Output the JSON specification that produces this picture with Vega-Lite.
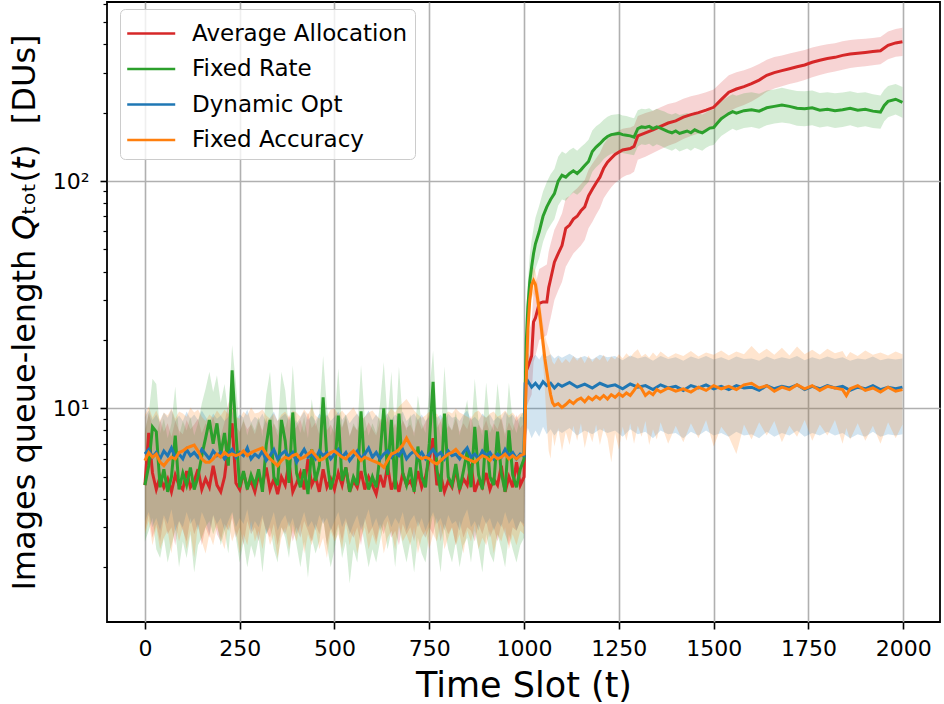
{
"$schema":"https://vega.github.io/schema/vega-lite/v6.json",
"width":833,"height":620,
"autosize":{"type":"none"},
"padding":{"left":107,"top":2,"right":4,"bottom":82},
"config":{
"font":"DejaVu Sans",
"view":{"stroke":"black","strokeWidth":1.8},
"axis":{"labelFont":"DejaVu Sans","titleFont":"DejaVu Sans","labelColor":"black","titleColor":"black","tickColor":"black","domain":false,"gridColor":"#b0b0b0","gridWidth":1.6,"titleFontWeight":"normal","labelFontSize":22,"titleFontSize":32,"tickWidth":1.6,"labelOverlap":false}
},
"datasets":{"d":[
{"s":"A","t":0,"m":4.6,"lo":2.9,"hi":7.8},{"s":"A","t":10,"m":7.8,"lo":3.4,"hi":9.5},{"s":"A","t":20,"m":5.2,"lo":2.7,"hi":8.4},{"s":"A","t":30,"m":4.4,"lo":3.1,"hi":7.6},{"s":"A","t":40,"m":5.0,"lo":2.6,"hi":8.9},{"s":"A","t":50,"m":4.5,"lo":3.3,"hi":7.9},{"s":"A","t":60,"m":4.9,"lo":2.8,"hi":8.6},{"s":"A","t":70,"m":4.3,"lo":3.0,"hi":7.5},{"s":"A","t":80,"m":5.1,"lo":2.5,"hi":8.8},{"s":"A","t":90,"m":4.6,"lo":3.2,"hi":8.0},
{"s":"A","t":100,"m":4.4,"lo":2.9,"hi":7.7},{"s":"A","t":110,"m":5.3,"lo":2.6,"hi":8.9},{"s":"A","t":120,"m":4.5,"lo":3.3,"hi":8.1},{"s":"A","t":130,"m":4.8,"lo":2.8,"hi":8.5},{"s":"A","t":140,"m":5.4,"lo":3.1,"hi":9.0},{"s":"A","t":150,"m":4.4,"lo":2.5,"hi":7.8},{"s":"A","t":160,"m":4.9,"lo":3.0,"hi":8.6},{"s":"A","t":170,"m":4.5,"lo":2.7,"hi":8.2},{"s":"A","t":180,"m":5.6,"lo":3.4,"hi":9.2},{"s":"A","t":190,"m":4.6,"lo":2.8,"hi":8.0},
{"s":"A","t":200,"m":4.3,"lo":2.6,"hi":7.6},{"s":"A","t":210,"m":5.0,"lo":3.1,"hi":8.7},{"s":"A","t":220,"m":6.8,"lo":2.9,"hi":10.5},{"s":"A","t":230,"m":8.6,"lo":3.3,"hi":11.5},{"s":"A","t":240,"m":4.7,"lo":2.7,"hi":8.4},{"s":"A","t":250,"m":4.4,"lo":3.0,"hi":7.9},{"s":"A","t":260,"m":5.2,"lo":2.5,"hi":8.8},{"s":"A","t":270,"m":4.5,"lo":3.2,"hi":8.1},{"s":"A","t":280,"m":4.8,"lo":2.8,"hi":8.5},{"s":"A","t":290,"m":4.3,"lo":3.0,"hi":7.7},
{"s":"A","t":300,"m":5.1,"lo":2.6,"hi":8.8},{"s":"A","t":310,"m":4.6,"lo":3.3,"hi":8.0},{"s":"A","t":320,"m":5.5,"lo":2.9,"hi":9.1},{"s":"A","t":330,"m":4.4,"lo":2.7,"hi":7.8},{"s":"A","t":340,"m":4.9,"lo":3.1,"hi":8.6},{"s":"A","t":350,"m":4.2,"lo":2.5,"hi":7.6},{"s":"A","t":360,"m":5.0,"lo":3.0,"hi":8.9},{"s":"A","t":370,"m":4.6,"lo":2.8,"hi":8.2},{"s":"A","t":380,"m":5.8,"lo":3.2,"hi":9.4},{"s":"A","t":390,"m":4.3,"lo":2.6,"hi":7.9},
{"s":"A","t":400,"m":4.7,"lo":3.0,"hi":8.3},{"s":"A","t":410,"m":5.2,"lo":2.7,"hi":8.9},{"s":"A","t":420,"m":4.4,"lo":3.2,"hi":7.8},{"s":"A","t":430,"m":6.0,"lo":2.9,"hi":9.6},{"s":"A","t":440,"m":4.6,"lo":2.6,"hi":8.2},{"s":"A","t":450,"m":5.0,"lo":3.1,"hi":8.7},{"s":"A","t":460,"m":4.3,"lo":2.8,"hi":7.7},{"s":"A","t":470,"m":5.4,"lo":3.3,"hi":9.0},{"s":"A","t":480,"m":4.5,"lo":2.5,"hi":8.0},{"s":"A","t":490,"m":4.9,"lo":3.0,"hi":8.5},
{"s":"A","t":500,"m":4.4,"lo":2.7,"hi":7.8},{"s":"A","t":510,"m":5.2,"lo":3.1,"hi":8.9},{"s":"A","t":520,"m":4.6,"lo":2.6,"hi":8.2},{"s":"A","t":530,"m":5.5,"lo":3.2,"hi":9.1},{"s":"A","t":540,"m":4.3,"lo":2.9,"hi":7.6},{"s":"A","t":550,"m":4.8,"lo":2.7,"hi":8.4},{"s":"A","t":560,"m":4.5,"lo":3.0,"hi":8.0},{"s":"A","t":570,"m":5.3,"lo":2.5,"hi":8.9},{"s":"A","t":580,"m":4.4,"lo":3.3,"hi":7.9},{"s":"A","t":590,"m":5.0,"lo":2.8,"hi":8.7},
{"s":"A","t":600,"m":4.6,"lo":3.0,"hi":8.1},{"s":"A","t":610,"m":4.2,"lo":2.6,"hi":7.6},{"s":"A","t":620,"m":5.1,"lo":3.1,"hi":8.8},{"s":"A","t":630,"m":4.5,"lo":2.8,"hi":8.0},{"s":"A","t":640,"m":5.6,"lo":3.2,"hi":9.2},{"s":"A","t":650,"m":4.4,"lo":2.7,"hi":7.8},{"s":"A","t":660,"m":4.9,"lo":2.9,"hi":8.6},{"s":"A","t":670,"m":4.3,"lo":2.5,"hi":7.7},{"s":"A","t":680,"m":5.2,"lo":3.1,"hi":8.9},{"s":"A","t":690,"m":4.6,"lo":2.8,"hi":8.2},
{"s":"A","t":700,"m":4.8,"lo":3.0,"hi":8.5},{"s":"A","t":710,"m":4.4,"lo":2.6,"hi":7.8},{"s":"A","t":720,"m":5.3,"lo":3.2,"hi":9.0},{"s":"A","t":730,"m":4.5,"lo":2.9,"hi":8.1},{"s":"A","t":740,"m":5.0,"lo":2.7,"hi":8.7},{"s":"A","t":750,"m":6.0,"lo":3.0,"hi":9.5},{"s":"A","t":760,"m":7.4,"lo":2.8,"hi":10.5},{"s":"A","t":770,"m":4.6,"lo":3.3,"hi":8.2},{"s":"A","t":780,"m":5.1,"lo":2.6,"hi":8.8},{"s":"A","t":790,"m":4.3,"lo":3.1,"hi":7.7},
{"s":"A","t":800,"m":4.8,"lo":2.8,"hi":8.4},{"s":"A","t":810,"m":4.5,"lo":3.0,"hi":8.0},{"s":"A","t":820,"m":5.4,"lo":2.5,"hi":9.0},{"s":"A","t":830,"m":4.4,"lo":3.2,"hi":7.9},{"s":"A","t":840,"m":4.9,"lo":2.7,"hi":8.6},{"s":"A","t":850,"m":4.6,"lo":3.0,"hi":8.1},{"s":"A","t":860,"m":5.7,"lo":2.9,"hi":9.3},{"s":"A","t":870,"m":4.3,"lo":2.6,"hi":7.7},{"s":"A","t":880,"m":4.8,"lo":3.1,"hi":8.5},{"s":"A","t":890,"m":4.5,"lo":2.8,"hi":8.0},
{"s":"A","t":900,"m":5.2,"lo":3.2,"hi":8.9},{"s":"A","t":910,"m":4.4,"lo":2.7,"hi":7.8},{"s":"A","t":920,"m":4.9,"lo":3.0,"hi":8.6},{"s":"A","t":930,"m":4.6,"lo":2.6,"hi":8.1},{"s":"A","t":940,"m":5.6,"lo":3.1,"hi":9.2},{"s":"A","t":950,"m":4.3,"lo":2.8,"hi":7.7},{"s":"A","t":960,"m":5.0,"lo":2.5,"hi":8.7},{"s":"A","t":970,"m":4.5,"lo":3.0,"hi":8.0},{"s":"A","t":980,"m":5.8,"lo":2.9,"hi":9.4},{"s":"A","t":990,"m":4.6,"lo":3.2,"hi":8.2},
{"s":"A","t":1000,"m":5.0,"lo":3.0,"hi":8.6},
{"s":"A","t":1005,"m":14.5,"lo":10,"hi":20},{"s":"A","t":1010,"m":15.2,"lo":10.5,"hi":21},{"s":"A","t":1020,"m":17,"lo":11.5,"hi":24},{"s":"A","t":1025,"m":24,"lo":16,"hi":33},{"s":"A","t":1030,"m":25,"lo":17,"hi":35},{"s":"A","t":1040,"m":29,"lo":20,"hi":41},{"s":"A","t":1050,"m":29.4,"lo":20.5,"hi":42},{"s":"A","t":1060,"m":29.4,"lo":21,"hi":43},{"s":"A","t":1065,"m":34,"lo":23,"hi":49},{"s":"A","t":1070,"m":37,"lo":25,"hi":53},{"s":"A","t":1080,"m":44,"lo":30,"hi":61},{"s":"A","t":1090,"m":48,"lo":33,"hi":66},{"s":"A","t":1100,"m":52,"lo":36,"hi":72},{"s":"A","t":1110,"m":62,"lo":42,"hi":84},{"s":"A","t":1120,"m":64,"lo":45,"hi":86},{"s":"A","t":1130,"m":68,"lo":48,"hi":90},{"s":"A","t":1140,"m":70,"lo":50,"hi":93},{"s":"A","t":1150,"m":74,"lo":52,"hi":97},{"s":"A","t":1160,"m":77,"lo":55,"hi":101},{"s":"A","t":1170,"m":86,"lo":62,"hi":112},{"s":"A","t":1180,"m":92,"lo":66,"hi":119},{"s":"A","t":1190,"m":98,"lo":71,"hi":126},{"s":"A","t":1200,"m":104,"lo":76,"hi":133},{"s":"A","t":1210,"m":114,"lo":84,"hi":145},{"s":"A","t":1220,"m":121,"lo":89,"hi":153},{"s":"A","t":1230,"m":126,"lo":94,"hi":158},{"s":"A","t":1240,"m":131,"lo":98,"hi":164},{"s":"A","t":1250,"m":134,"lo":101,"hi":167},{"s":"A","t":1260,"m":137,"lo":104,"hi":170},{"s":"A","t":1270,"m":138,"lo":106,"hi":171},{"s":"A","t":1280,"m":139,"lo":107,"hi":172},{"s":"A","t":1290,"m":142,"lo":110,"hi":175},{"s":"A","t":1300,"m":158,"lo":124,"hi":193},{"s":"A","t":1320,"m":163,"lo":128,"hi":199},{"s":"A","t":1340,"m":168,"lo":133,"hi":204},{"s":"A","t":1360,"m":174,"lo":138,"hi":211},{"s":"A","t":1380,"m":180,"lo":143,"hi":218},{"s":"A","t":1400,"m":184,"lo":147,"hi":222},{"s":"A","t":1420,"m":191,"lo":153,"hi":230},{"s":"A","t":1440,"m":196,"lo":158,"hi":236},{"s":"A","t":1460,"m":200,"lo":162,"hi":240},{"s":"A","t":1480,"m":205,"lo":167,"hi":246},{"s":"A","t":1500,"m":211,"lo":172,"hi":253},{"s":"A","t":1520,"m":228,"lo":186,"hi":272},{"s":"A","t":1540,"m":246,"lo":202,"hi":292},{"s":"A","t":1560,"m":254,"lo":210,"hi":301},{"s":"A","t":1580,"m":260,"lo":216,"hi":307},{"s":"A","t":1600,"m":268,"lo":224,"hi":316},{"s":"A","t":1620,"m":278,"lo":234,"hi":327},{"s":"A","t":1640,"m":292,"lo":247,"hi":342},{"s":"A","t":1660,"m":300,"lo":255,"hi":351},{"s":"A","t":1680,"m":306,"lo":261,"hi":357},{"s":"A","t":1700,"m":312,"lo":267,"hi":364},{"s":"A","t":1720,"m":318,"lo":272,"hi":370},{"s":"A","t":1740,"m":324,"lo":278,"hi":377},{"s":"A","t":1760,"m":333,"lo":286,"hi":387},{"s":"A","t":1780,"m":340,"lo":293,"hi":394},{"s":"A","t":1800,"m":346,"lo":299,"hi":400},{"s":"A","t":1820,"m":350,"lo":303,"hi":404},{"s":"A","t":1840,"m":357,"lo":309,"hi":412},{"s":"A","t":1860,"m":362,"lo":314,"hi":417},{"s":"A","t":1880,"m":365,"lo":317,"hi":420},{"s":"A","t":1900,"m":368,"lo":320,"hi":423},{"s":"A","t":1920,"m":371,"lo":323,"hi":426},{"s":"A","t":1940,"m":374,"lo":326,"hi":430},{"s":"A","t":1960,"m":395,"lo":343,"hi":455},{"s":"A","t":1980,"m":405,"lo":352,"hi":466},{"s":"A","t":1998,"m":410,"lo":355,"hi":472},
{"s":"F","t":0,"m":4.6,"lo":2.6,"hi":8.0},{"s":"F","t":10,"m":5.6,"lo":2.9,"hi":9.5},{"s":"F","t":20,"m":8.3,"lo":3.3,"hi":13.5},{"s":"F","t":30,"m":7.9,"lo":2.4,"hi":12.8},{"s":"F","t":40,"m":4.5,"lo":2.2,"hi":7.8},{"s":"F","t":50,"m":5.4,"lo":2.7,"hi":9.0},{"s":"F","t":60,"m":4.3,"lo":2.1,"hi":7.4},{"s":"F","t":70,"m":5.0,"lo":2.5,"hi":8.6},{"s":"F","t":80,"m":7.6,"lo":2.9,"hi":12.5},{"s":"F","t":90,"m":4.4,"lo":2.0,"hi":7.6},
{"s":"F","t":100,"m":5.2,"lo":2.6,"hi":8.8},{"s":"F","t":110,"m":4.6,"lo":2.2,"hi":8.0},{"s":"F","t":120,"m":5.5,"lo":2.8,"hi":9.2},{"s":"F","t":130,"m":4.4,"lo":1.9,"hi":7.6},{"s":"F","t":140,"m":5.0,"lo":2.5,"hi":8.6},{"s":"F","t":150,"m":6.2,"lo":2.7,"hi":10.5},{"s":"F","t":160,"m":7.4,"lo":3.0,"hi":12.2},{"s":"F","t":170,"m":8.9,"lo":3.2,"hi":14.5},{"s":"F","t":180,"m":7.0,"lo":2.8,"hi":11.8},{"s":"F","t":190,"m":8.6,"lo":3.1,"hi":14.0},
{"s":"F","t":200,"m":6.3,"lo":2.5,"hi":10.6},{"s":"F","t":210,"m":7.8,"lo":2.9,"hi":12.8},{"s":"F","t":220,"m":5.6,"lo":2.3,"hi":9.5},{"s":"F","t":230,"m":14.7,"lo":3.5,"hi":19.0},{"s":"F","t":240,"m":7.9,"lo":2.7,"hi":12.9},{"s":"F","t":250,"m":4.5,"lo":2.1,"hi":7.8},{"s":"F","t":260,"m":5.3,"lo":2.6,"hi":9.0},{"s":"F","t":270,"m":4.4,"lo":2.0,"hi":7.6},{"s":"F","t":280,"m":5.1,"lo":2.5,"hi":8.7},{"s":"F","t":290,"m":4.6,"lo":2.2,"hi":8.0},
{"s":"F","t":300,"m":5.4,"lo":2.7,"hi":9.2},{"s":"F","t":310,"m":4.3,"lo":1.9,"hi":7.5},{"s":"F","t":320,"m":6.9,"lo":2.8,"hi":11.5},{"s":"F","t":330,"m":8.9,"lo":3.0,"hi":14.5},{"s":"F","t":340,"m":5.0,"lo":2.4,"hi":8.6},{"s":"F","t":350,"m":4.6,"lo":2.1,"hi":8.0},{"s":"F","t":360,"m":8.9,"lo":3.0,"hi":14.5},{"s":"F","t":370,"m":7.2,"lo":2.7,"hi":12.0},{"s":"F","t":380,"m":4.7,"lo":2.2,"hi":8.1},{"s":"F","t":390,"m":9.6,"lo":3.1,"hi":15.5},
{"s":"F","t":400,"m":5.2,"lo":2.5,"hi":8.9},{"s":"F","t":410,"m":4.5,"lo":2.0,"hi":7.8},{"s":"F","t":420,"m":5.4,"lo":2.6,"hi":9.2},{"s":"F","t":430,"m":4.2,"lo":1.8,"hi":7.4},{"s":"F","t":440,"m":6.6,"lo":2.7,"hi":11.0},{"s":"F","t":450,"m":4.8,"lo":2.3,"hi":8.3},{"s":"F","t":460,"m":5.6,"lo":2.6,"hi":9.5},{"s":"F","t":470,"m":11.2,"lo":3.3,"hi":17.0},{"s":"F","t":480,"m":6.0,"lo":2.5,"hi":10.2},{"s":"F","t":490,"m":4.4,"lo":2.0,"hi":7.6},
{"s":"F","t":500,"m":5.1,"lo":2.4,"hi":8.8},{"s":"F","t":510,"m":9.3,"lo":3.0,"hi":15.0},{"s":"F","t":520,"m":4.8,"lo":2.2,"hi":8.3},{"s":"F","t":530,"m":5.5,"lo":2.6,"hi":9.4},{"s":"F","t":540,"m":4.3,"lo":1.7,"hi":7.5},{"s":"F","t":550,"m":5.0,"lo":2.4,"hi":8.6},{"s":"F","t":560,"m":4.6,"lo":2.1,"hi":8.0},{"s":"F","t":570,"m":9.7,"lo":3.1,"hi":15.5},{"s":"F","t":580,"m":5.3,"lo":2.5,"hi":9.0},{"s":"F","t":590,"m":4.4,"lo":2.0,"hi":7.6},
{"s":"F","t":600,"m":5.0,"lo":2.4,"hi":8.6},{"s":"F","t":610,"m":4.5,"lo":2.1,"hi":7.8},{"s":"F","t":620,"m":6.2,"lo":2.6,"hi":10.4},{"s":"F","t":630,"m":10.0,"lo":3.1,"hi":16.0},{"s":"F","t":640,"m":5.1,"lo":2.4,"hi":8.8},{"s":"F","t":650,"m":8.9,"lo":2.9,"hi":14.5},{"s":"F","t":660,"m":4.4,"lo":2.0,"hi":7.6},{"s":"F","t":670,"m":9.5,"lo":3.0,"hi":15.3},{"s":"F","t":680,"m":5.2,"lo":2.5,"hi":8.9},{"s":"F","t":690,"m":4.6,"lo":2.1,"hi":8.0},
{"s":"F","t":700,"m":5.5,"lo":2.6,"hi":9.4},{"s":"F","t":710,"m":4.3,"lo":1.9,"hi":7.5},{"s":"F","t":720,"m":6.8,"lo":2.7,"hi":11.4},{"s":"F","t":730,"m":5.0,"lo":2.3,"hi":8.6},{"s":"F","t":740,"m":4.5,"lo":2.1,"hi":7.8},{"s":"F","t":750,"m":7.0,"lo":2.8,"hi":11.8},{"s":"F","t":760,"m":13.1,"lo":3.4,"hi":18.0},{"s":"F","t":770,"m":5.4,"lo":2.5,"hi":9.2},{"s":"F","t":780,"m":4.3,"lo":1.9,"hi":7.5},{"s":"F","t":790,"m":9.5,"lo":3.0,"hi":15.3},
{"s":"F","t":800,"m":5.0,"lo":2.4,"hi":8.6},{"s":"F","t":810,"m":4.6,"lo":2.1,"hi":8.0},{"s":"F","t":820,"m":5.7,"lo":2.6,"hi":9.7},{"s":"F","t":830,"m":4.4,"lo":2.0,"hi":7.6},{"s":"F","t":840,"m":5.3,"lo":2.5,"hi":9.1},{"s":"F","t":850,"m":6.5,"lo":2.7,"hi":10.9},{"s":"F","t":860,"m":4.5,"lo":2.1,"hi":7.8},{"s":"F","t":870,"m":8.3,"lo":2.9,"hi":13.5},{"s":"F","t":880,"m":5.1,"lo":2.4,"hi":8.7},{"s":"F","t":890,"m":4.4,"lo":1.9,"hi":7.6},
{"s":"F","t":900,"m":8.0,"lo":2.8,"hi":13.0},{"s":"F","t":910,"m":5.0,"lo":2.3,"hi":8.6},{"s":"F","t":920,"m":4.6,"lo":2.1,"hi":8.0},{"s":"F","t":930,"m":7.9,"lo":2.8,"hi":12.9},{"s":"F","t":940,"m":5.2,"lo":2.4,"hi":8.9},{"s":"F","t":950,"m":4.3,"lo":2.0,"hi":7.5},{"s":"F","t":960,"m":8.0,"lo":2.8,"hi":13.0},{"s":"F","t":970,"m":5.1,"lo":2.4,"hi":8.7},{"s":"F","t":980,"m":4.5,"lo":2.1,"hi":7.8},{"s":"F","t":990,"m":5.4,"lo":2.5,"hi":9.2},
{"s":"F","t":1000,"m":6.0,"lo":2.7,"hi":9.8},
{"s":"F","t":1003,"m":12,"lo":9,"hi":16},{"s":"F","t":1006,"m":20,"lo":15,"hi":26},{"s":"F","t":1010,"m":28,"lo":21,"hi":36},{"s":"F","t":1015,"m":36,"lo":27,"hi":47},{"s":"F","t":1020,"m":42,"lo":32,"hi":55},{"s":"F","t":1025,"m":48,"lo":37,"hi":62},{"s":"F","t":1030,"m":53,"lo":41,"hi":69},{"s":"F","t":1040,"m":60,"lo":46,"hi":78},{"s":"F","t":1050,"m":70,"lo":54,"hi":90},{"s":"F","t":1060,"m":77,"lo":60,"hi":99},{"s":"F","t":1070,"m":83,"lo":64,"hi":107},{"s":"F","t":1080,"m":88,"lo":68,"hi":113},{"s":"F","t":1090,"m":100,"lo":78,"hi":128},{"s":"F","t":1100,"m":106,"lo":83,"hi":135},{"s":"F","t":1110,"m":104,"lo":82,"hi":132},{"s":"F","t":1120,"m":108,"lo":86,"hi":137},{"s":"F","t":1130,"m":111,"lo":89,"hi":140},{"s":"F","t":1140,"m":108,"lo":87,"hi":136},{"s":"F","t":1150,"m":112,"lo":90,"hi":141},{"s":"F","t":1160,"m":117,"lo":95,"hi":146},{"s":"F","t":1170,"m":122,"lo":99,"hi":152},{"s":"F","t":1180,"m":135,"lo":110,"hi":167},{"s":"F","t":1190,"m":141,"lo":115,"hi":174},{"s":"F","t":1200,"m":146,"lo":119,"hi":179},{"s":"F","t":1210,"m":152,"lo":125,"hi":186},{"s":"F","t":1220,"m":157,"lo":129,"hi":192},{"s":"F","t":1230,"m":160,"lo":132,"hi":195},{"s":"F","t":1240,"m":161,"lo":133,"hi":196},{"s":"F","t":1250,"m":162,"lo":134,"hi":197},{"s":"F","t":1260,"m":160,"lo":133,"hi":194},{"s":"F","t":1270,"m":159,"lo":132,"hi":193},{"s":"F","t":1280,"m":158,"lo":131,"hi":191},{"s":"F","t":1290,"m":156,"lo":130,"hi":189},{"s":"F","t":1300,"m":170,"lo":142,"hi":205},{"s":"F","t":1310,"m":173,"lo":145,"hi":208},{"s":"F","t":1320,"m":172,"lo":144,"hi":207},{"s":"F","t":1330,"m":174,"lo":146,"hi":209},{"s":"F","t":1340,"m":170,"lo":142,"hi":204},{"s":"F","t":1350,"m":173,"lo":145,"hi":208},{"s":"F","t":1360,"m":171,"lo":143,"hi":205},{"s":"F","t":1370,"m":168,"lo":140,"hi":202},{"s":"F","t":1380,"m":165,"lo":138,"hi":198},{"s":"F","t":1390,"m":163,"lo":136,"hi":196},{"s":"F","t":1400,"m":166,"lo":139,"hi":199},{"s":"F","t":1410,"m":162,"lo":135,"hi":195},{"s":"F","t":1420,"m":164,"lo":137,"hi":197},{"s":"F","t":1430,"m":166,"lo":139,"hi":199},{"s":"F","t":1440,"m":163,"lo":136,"hi":196},{"s":"F","t":1450,"m":168,"lo":140,"hi":202},{"s":"F","t":1460,"m":165,"lo":138,"hi":198},{"s":"F","t":1470,"m":163,"lo":136,"hi":196},{"s":"F","t":1480,"m":167,"lo":140,"hi":200},{"s":"F","t":1490,"m":171,"lo":143,"hi":205},{"s":"F","t":1500,"m":172,"lo":144,"hi":206},{"s":"F","t":1510,"m":180,"lo":151,"hi":215},{"s":"F","t":1520,"m":188,"lo":158,"hi":224},{"s":"F","t":1530,"m":193,"lo":162,"hi":230},{"s":"F","t":1540,"m":198,"lo":166,"hi":236},{"s":"F","t":1550,"m":202,"lo":170,"hi":241},{"s":"F","t":1560,"m":199,"lo":167,"hi":237},{"s":"F","t":1580,"m":204,"lo":171,"hi":243},{"s":"F","t":1600,"m":206,"lo":173,"hi":246},{"s":"F","t":1620,"m":203,"lo":170,"hi":242},{"s":"F","t":1640,"m":210,"lo":176,"hi":250},{"s":"F","t":1660,"m":213,"lo":179,"hi":253},{"s":"F","t":1680,"m":216,"lo":181,"hi":257},{"s":"F","t":1700,"m":213,"lo":179,"hi":253},{"s":"F","t":1720,"m":209,"lo":175,"hi":249},{"s":"F","t":1740,"m":208,"lo":174,"hi":248},{"s":"F","t":1760,"m":210,"lo":176,"hi":250},{"s":"F","t":1780,"m":205,"lo":172,"hi":244},{"s":"F","t":1800,"m":207,"lo":174,"hi":246},{"s":"F","t":1820,"m":204,"lo":171,"hi":243},{"s":"F","t":1840,"m":206,"lo":173,"hi":245},{"s":"F","t":1860,"m":209,"lo":176,"hi":248},{"s":"F","t":1880,"m":205,"lo":172,"hi":244},{"s":"F","t":1900,"m":207,"lo":174,"hi":246},{"s":"F","t":1920,"m":203,"lo":171,"hi":241},{"s":"F","t":1940,"m":201,"lo":170,"hi":238},{"s":"F","t":1950,"m":215,"lo":183,"hi":252},{"s":"F","t":1960,"m":224,"lo":191,"hi":262},{"s":"F","t":1980,"m":229,"lo":196,"hi":267},{"s":"F","t":1998,"m":222,"lo":190,"hi":259},
{"s":"D","t":0,"m":6.3,"lo":3.2,"hi":9.2},{"s":"D","t":10,"m":6.6,"lo":3.5,"hi":9.8},{"s":"D","t":20,"m":6.1,"lo":3.0,"hi":8.9},{"s":"D","t":30,"m":6.4,"lo":3.3,"hi":9.4},{"s":"D","t":40,"m":6.0,"lo":2.9,"hi":8.7},{"s":"D","t":50,"m":6.5,"lo":3.4,"hi":9.6},{"s":"D","t":60,"m":6.2,"lo":3.1,"hi":9.1},{"s":"D","t":70,"m":6.7,"lo":3.6,"hi":9.9},{"s":"D","t":80,"m":6.1,"lo":2.9,"hi":8.8},{"s":"D","t":90,"m":6.3,"lo":3.2,"hi":9.3},
{"s":"D","t":100,"m":6.0,"lo":3.0,"hi":8.8},{"s":"D","t":110,"m":6.6,"lo":3.5,"hi":9.7},{"s":"D","t":120,"m":6.2,"lo":3.1,"hi":9.0},{"s":"D","t":130,"m":6.4,"lo":3.3,"hi":9.4},{"s":"D","t":140,"m":6.1,"lo":2.9,"hi":8.9},{"s":"D","t":150,"m":6.6,"lo":3.5,"hi":9.8},{"s":"D","t":160,"m":6.3,"lo":3.2,"hi":9.2},{"s":"D","t":170,"m":6.0,"lo":2.8,"hi":8.7},{"s":"D","t":180,"m":6.5,"lo":3.4,"hi":9.5},{"s":"D","t":190,"m":6.2,"lo":3.1,"hi":9.0},
{"s":"D","t":200,"m":6.4,"lo":3.3,"hi":9.3},{"s":"D","t":210,"m":6.0,"lo":2.9,"hi":8.8},{"s":"D","t":220,"m":6.3,"lo":3.2,"hi":9.2},{"s":"D","t":230,"m":6.6,"lo":3.5,"hi":9.7},{"s":"D","t":240,"m":6.1,"lo":3.0,"hi":8.9},{"s":"D","t":250,"m":6.4,"lo":3.3,"hi":9.4},{"s":"D","t":260,"m":6.2,"lo":3.1,"hi":9.1},{"s":"D","t":270,"m":6.7,"lo":3.6,"hi":9.9},{"s":"D","t":280,"m":6.0,"lo":2.9,"hi":8.7},{"s":"D","t":290,"m":6.3,"lo":3.2,"hi":9.2},
{"s":"D","t":300,"m":6.1,"lo":3.0,"hi":8.9},{"s":"D","t":310,"m":6.5,"lo":3.4,"hi":9.5},{"s":"D","t":320,"m":5.9,"lo":2.8,"hi":8.6},{"s":"D","t":330,"m":6.2,"lo":3.1,"hi":9.1},{"s":"D","t":340,"m":6.6,"lo":3.5,"hi":9.7},{"s":"D","t":350,"m":6.0,"lo":2.9,"hi":8.8},{"s":"D","t":360,"m":6.3,"lo":3.2,"hi":9.2},{"s":"D","t":370,"m":6.5,"lo":3.4,"hi":9.5},{"s":"D","t":380,"m":6.1,"lo":3.0,"hi":8.9},{"s":"D","t":390,"m":6.4,"lo":3.3,"hi":9.4},
{"s":"D","t":400,"m":5.8,"lo":2.8,"hi":8.6},{"s":"D","t":410,"m":6.2,"lo":3.1,"hi":9.1},{"s":"D","t":420,"m":6.6,"lo":3.5,"hi":9.7},{"s":"D","t":430,"m":6.1,"lo":3.0,"hi":8.9},{"s":"D","t":440,"m":6.3,"lo":3.2,"hi":9.3},{"s":"D","t":450,"m":6.0,"lo":2.9,"hi":8.8},{"s":"D","t":460,"m":6.5,"lo":3.4,"hi":9.5},{"s":"D","t":470,"m":6.2,"lo":3.1,"hi":9.1},{"s":"D","t":480,"m":6.4,"lo":3.3,"hi":9.4},{"s":"D","t":490,"m":6.0,"lo":2.9,"hi":8.8},
{"s":"D","t":500,"m":6.3,"lo":3.2,"hi":9.2},{"s":"D","t":510,"m":6.6,"lo":3.5,"hi":9.7},{"s":"D","t":520,"m":6.1,"lo":3.0,"hi":8.9},{"s":"D","t":530,"m":6.4,"lo":3.3,"hi":9.4},{"s":"D","t":540,"m":5.9,"lo":2.8,"hi":8.6},{"s":"D","t":550,"m":6.2,"lo":3.1,"hi":9.1},{"s":"D","t":560,"m":6.5,"lo":3.4,"hi":9.5},{"s":"D","t":570,"m":6.0,"lo":2.9,"hi":8.8},{"s":"D","t":580,"m":6.3,"lo":3.2,"hi":9.2},{"s":"D","t":590,"m":6.7,"lo":3.6,"hi":9.8},
{"s":"D","t":600,"m":6.1,"lo":3.0,"hi":8.9},{"s":"D","t":610,"m":6.4,"lo":3.3,"hi":9.4},{"s":"D","t":620,"m":6.0,"lo":2.9,"hi":8.8},{"s":"D","t":630,"m":6.3,"lo":3.2,"hi":9.2},{"s":"D","t":640,"m":6.5,"lo":3.4,"hi":9.5},{"s":"D","t":650,"m":6.1,"lo":3.0,"hi":8.9},{"s":"D","t":660,"m":6.4,"lo":3.3,"hi":9.4},{"s":"D","t":670,"m":6.2,"lo":3.1,"hi":9.1},{"s":"D","t":680,"m":6.6,"lo":3.5,"hi":9.7},{"s":"D","t":690,"m":6.0,"lo":2.9,"hi":8.8},
{"s":"D","t":700,"m":6.3,"lo":3.2,"hi":9.2},{"s":"D","t":710,"m":6.5,"lo":3.4,"hi":9.5},{"s":"D","t":720,"m":6.1,"lo":3.0,"hi":8.9},{"s":"D","t":730,"m":6.4,"lo":3.3,"hi":9.4},{"s":"D","t":740,"m":6.0,"lo":2.9,"hi":8.8},{"s":"D","t":750,"m":6.3,"lo":3.2,"hi":9.2},{"s":"D","t":760,"m":6.6,"lo":3.5,"hi":9.7},{"s":"D","t":770,"m":6.2,"lo":3.1,"hi":9.1},{"s":"D","t":780,"m":6.4,"lo":3.3,"hi":9.4},{"s":"D","t":790,"m":6.0,"lo":2.9,"hi":8.8},
{"s":"D","t":800,"m":6.5,"lo":3.4,"hi":9.5},{"s":"D","t":810,"m":6.2,"lo":3.1,"hi":9.1},{"s":"D","t":820,"m":6.3,"lo":3.2,"hi":9.2},{"s":"D","t":830,"m":6.0,"lo":2.9,"hi":8.8},{"s":"D","t":840,"m":6.4,"lo":3.3,"hi":9.4},{"s":"D","t":850,"m":6.7,"lo":3.6,"hi":9.8},{"s":"D","t":860,"m":6.1,"lo":3.0,"hi":8.9},{"s":"D","t":870,"m":6.3,"lo":3.2,"hi":9.2},{"s":"D","t":880,"m":6.0,"lo":2.9,"hi":8.8},{"s":"D","t":890,"m":6.5,"lo":3.4,"hi":9.5},
{"s":"D","t":900,"m":6.2,"lo":3.1,"hi":9.1},{"s":"D","t":910,"m":6.4,"lo":3.3,"hi":9.4},{"s":"D","t":920,"m":6.0,"lo":2.9,"hi":8.8},{"s":"D","t":930,"m":6.3,"lo":3.2,"hi":9.2},{"s":"D","t":940,"m":6.1,"lo":3.0,"hi":8.9},{"s":"D","t":950,"m":6.6,"lo":3.5,"hi":9.7},{"s":"D","t":960,"m":6.2,"lo":3.1,"hi":9.1},{"s":"D","t":970,"m":6.4,"lo":3.3,"hi":9.4},{"s":"D","t":980,"m":6.0,"lo":2.9,"hi":8.8},{"s":"D","t":990,"m":6.3,"lo":3.2,"hi":9.2},
{"s":"D","t":1000,"m":6.2,"lo":3.1,"hi":9.1},
{"s":"D","t":1003,"m":13.0,"lo":8.0,"hi":17.0},{"s":"D","t":1005,"m":12.8,"lo":7.6,"hi":16.8},{"s":"D","t":1010,"m":13.2,"lo":8.2,"hi":17.6},{"s":"D","t":1020,"m":12.4,"lo":7.4,"hi":16.5},{"s":"D","t":1030,"m":12.9,"lo":8.0,"hi":17.2},{"s":"D","t":1040,"m":12.3,"lo":7.5,"hi":16.4},{"s":"D","t":1050,"m":13.1,"lo":8.3,"hi":17.5},{"s":"D","t":1060,"m":12.6,"lo":7.7,"hi":16.9},{"s":"D","t":1070,"m":12.9,"lo":8.1,"hi":17.3},{"s":"D","t":1080,"m":12.3,"lo":7.6,"hi":16.6},{"s":"D","t":1090,"m":12.8,"lo":8.0,"hi":17.1},{"s":"D","t":1100,"m":12.5,"lo":7.8,"hi":16.7},{"s":"D","t":1120,"m":13.0,"lo":8.2,"hi":17.4},{"s":"D","t":1140,"m":12.4,"lo":7.6,"hi":16.6},{"s":"D","t":1160,"m":12.8,"lo":8.0,"hi":17.0},{"s":"D","t":1180,"m":12.3,"lo":7.7,"hi":16.4},{"s":"D","t":1200,"m":12.9,"lo":8.1,"hi":17.2},{"s":"D","t":1220,"m":12.5,"lo":7.8,"hi":16.8},{"s":"D","t":1240,"m":12.7,"lo":8.0,"hi":17.0},{"s":"D","t":1260,"m":12.2,"lo":7.5,"hi":16.3},{"s":"D","t":1280,"m":12.8,"lo":8.1,"hi":17.1},{"s":"D","t":1300,"m":12.4,"lo":7.7,"hi":16.6},{"s":"D","t":1320,"m":12.6,"lo":7.9,"hi":16.9},{"s":"D","t":1340,"m":12.1,"lo":7.4,"hi":16.2},{"s":"D","t":1360,"m":12.7,"lo":8.0,"hi":17.0},{"s":"D","t":1380,"m":12.3,"lo":7.7,"hi":16.5},{"s":"D","t":1400,"m":12.5,"lo":7.8,"hi":16.8},{"s":"D","t":1420,"m":12.0,"lo":7.4,"hi":16.2},{"s":"D","t":1440,"m":12.6,"lo":7.9,"hi":16.9},{"s":"D","t":1460,"m":12.3,"lo":7.6,"hi":16.5},{"s":"D","t":1480,"m":12.7,"lo":8.0,"hi":17.0},{"s":"D","t":1500,"m":12.2,"lo":7.6,"hi":16.4},{"s":"D","t":1520,"m":12.5,"lo":7.8,"hi":16.8},{"s":"D","t":1540,"m":12.1,"lo":7.5,"hi":16.3},{"s":"D","t":1560,"m":12.6,"lo":7.9,"hi":16.9},{"s":"D","t":1580,"m":12.3,"lo":7.6,"hi":16.5},{"s":"D","t":1600,"m":12.4,"lo":7.7,"hi":16.6},{"s":"D","t":1620,"m":12.0,"lo":7.4,"hi":16.2},{"s":"D","t":1640,"m":12.6,"lo":7.9,"hi":16.9},{"s":"D","t":1660,"m":12.2,"lo":7.5,"hi":16.4},{"s":"D","t":1680,"m":12.5,"lo":7.8,"hi":16.8},{"s":"D","t":1700,"m":12.3,"lo":7.6,"hi":16.5},{"s":"D","t":1720,"m":12.7,"lo":8.0,"hi":17.0},{"s":"D","t":1740,"m":12.1,"lo":7.5,"hi":16.3},{"s":"D","t":1760,"m":12.5,"lo":7.8,"hi":16.8},{"s":"D","t":1780,"m":12.2,"lo":7.6,"hi":16.4},{"s":"D","t":1800,"m":12.6,"lo":7.9,"hi":16.9},{"s":"D","t":1820,"m":12.3,"lo":7.6,"hi":16.5},{"s":"D","t":1840,"m":12.5,"lo":7.8,"hi":16.8},{"s":"D","t":1860,"m":12.0,"lo":7.4,"hi":16.2},{"s":"D","t":1880,"m":12.4,"lo":7.7,"hi":16.6},{"s":"D","t":1900,"m":12.2,"lo":7.5,"hi":16.4},{"s":"D","t":1920,"m":12.6,"lo":7.9,"hi":16.9},{"s":"D","t":1940,"m":12.1,"lo":7.5,"hi":16.3},{"s":"D","t":1960,"m":12.4,"lo":7.7,"hi":16.6},{"s":"D","t":1980,"m":12.2,"lo":7.6,"hi":16.4},{"s":"D","t":1998,"m":12.4,"lo":7.7,"hi":16.6},
{"s":"X","t":0,"m":5.9,"lo":2.8,"hi":9.4},{"s":"X","t":10,"m":6.4,"lo":3.2,"hi":10.2},{"s":"X","t":20,"m":6.1,"lo":2.5,"hi":9.1},{"s":"X","t":30,"m":6.3,"lo":3.0,"hi":9.8},{"s":"X","t":40,"m":5.8,"lo":2.4,"hi":8.9},{"s":"X","t":50,"m":5.6,"lo":2.7,"hi":9.6},{"s":"X","t":60,"m":5.9,"lo":2.9,"hi":9.3},{"s":"X","t":70,"m":6.1,"lo":2.3,"hi":10.0},{"s":"X","t":80,"m":6.0,"lo":3.1,"hi":9.0},{"s":"X","t":90,"m":6.4,"lo":2.6,"hi":9.7},
{"s":"X","t":100,"m":6.5,"lo":3.0,"hi":9.5},{"s":"X","t":110,"m":6.7,"lo":2.4,"hi":9.2},{"s":"X","t":120,"m":6.8,"lo":2.9,"hi":10.1},{"s":"X","t":130,"m":6.9,"lo":2.2,"hi":9.6},{"s":"X","t":140,"m":6.5,"lo":3.1,"hi":9.9},{"s":"X","t":150,"m":6.0,"lo":2.6,"hi":9.2},{"s":"X","t":160,"m":5.8,"lo":2.3,"hi":8.8},{"s":"X","t":170,"m":5.8,"lo":2.8,"hi":9.4},{"s":"X","t":180,"m":6.0,"lo":2.5,"hi":9.1},{"s":"X","t":190,"m":6.3,"lo":3.0,"hi":9.8},
{"s":"X","t":200,"m":6.1,"lo":2.7,"hi":9.3},{"s":"X","t":210,"m":6.4,"lo":2.4,"hi":9.9},{"s":"X","t":220,"m":6.2,"lo":3.1,"hi":9.4},{"s":"X","t":230,"m":6.3,"lo":2.6,"hi":10.0},{"s":"X","t":240,"m":6.2,"lo":2.9,"hi":9.2},{"s":"X","t":250,"m":6.3,"lo":2.3,"hi":9.0},{"s":"X","t":260,"m":6.5,"lo":2.8,"hi":9.7},{"s":"X","t":270,"m":6.2,"lo":2.5,"hi":9.3},{"s":"X","t":280,"m":6.4,"lo":3.2,"hi":10.1},{"s":"X","t":290,"m":6.5,"lo":2.6,"hi":9.5},
{"s":"X","t":300,"m":6.6,"lo":2.9,"hi":9.6},{"s":"X","t":310,"m":6.7,"lo":2.4,"hi":9.9},{"s":"X","t":320,"m":6.3,"lo":3.0,"hi":9.3},{"s":"X","t":330,"m":6.0,"lo":2.5,"hi":9.0},{"s":"X","t":340,"m":5.8,"lo":2.8,"hi":9.5},{"s":"X","t":350,"m":5.6,"lo":2.2,"hi":8.8},{"s":"X","t":360,"m":5.9,"lo":2.7,"hi":9.4},{"s":"X","t":370,"m":6.1,"lo":3.0,"hi":9.7},{"s":"X","t":380,"m":6.0,"lo":2.4,"hi":9.1},{"s":"X","t":390,"m":6.2,"lo":2.9,"hi":9.8},
{"s":"X","t":400,"m":6.3,"lo":2.6,"hi":9.6},{"s":"X","t":410,"m":6.0,"lo":3.1,"hi":9.2},{"s":"X","t":420,"m":6.1,"lo":2.3,"hi":9.9},{"s":"X","t":430,"m":6.3,"lo":2.8,"hi":9.4},{"s":"X","t":440,"m":6.5,"lo":2.5,"hi":10.1},{"s":"X","t":450,"m":6.2,"lo":3.0,"hi":9.3},{"s":"X","t":460,"m":5.9,"lo":2.4,"hi":9.0},{"s":"X","t":470,"m":6.0,"lo":2.7,"hi":9.5},{"s":"X","t":480,"m":6.2,"lo":2.2,"hi":9.2},{"s":"X","t":490,"m":6.4,"lo":2.9,"hi":9.9},
{"s":"X","t":500,"m":6.5,"lo":2.6,"hi":10.0},{"s":"X","t":510,"m":6.3,"lo":2.8,"hi":9.4},{"s":"X","t":520,"m":6.1,"lo":2.4,"hi":9.8},{"s":"X","t":530,"m":6.0,"lo":3.1,"hi":9.3},{"s":"X","t":540,"m":6.3,"lo":2.5,"hi":9.7},{"s":"X","t":550,"m":6.5,"lo":2.9,"hi":10.1},{"s":"X","t":560,"m":6.2,"lo":2.3,"hi":9.4},{"s":"X","t":570,"m":5.9,"lo":2.7,"hi":8.9},{"s":"X","t":580,"m":6.1,"lo":3.0,"hi":9.2},{"s":"X","t":590,"m":6.0,"lo":2.4,"hi":9.6},
{"s":"X","t":600,"m":5.9,"lo":2.8,"hi":9.8},{"s":"X","t":610,"m":5.8,"lo":2.5,"hi":9.3},{"s":"X","t":620,"m":5.7,"lo":3.0,"hi":9.0},{"s":"X","t":630,"m":5.5,"lo":2.3,"hi":8.8},{"s":"X","t":640,"m":5.9,"lo":2.7,"hi":9.5},{"s":"X","t":650,"m":6.3,"lo":2.9,"hi":10.0},{"s":"X","t":660,"m":6.4,"lo":2.4,"hi":9.6},{"s":"X","t":670,"m":6.6,"lo":3.1,"hi":10.2},{"s":"X","t":680,"m":6.9,"lo":2.6,"hi":10.6},{"s":"X","t":690,"m":7.4,"lo":2.8,"hi":11.0},
{"s":"X","t":700,"m":6.9,"lo":2.5,"hi":10.4},{"s":"X","t":710,"m":6.5,"lo":3.0,"hi":9.8},{"s":"X","t":720,"m":6.2,"lo":2.3,"hi":9.4},{"s":"X","t":730,"m":6.0,"lo":2.7,"hi":9.1},{"s":"X","t":740,"m":6.1,"lo":2.9,"hi":9.3},{"s":"X","t":750,"m":6.0,"lo":2.4,"hi":9.7},{"s":"X","t":760,"m":5.8,"lo":2.8,"hi":9.2},{"s":"X","t":770,"m":5.7,"lo":2.6,"hi":9.5},{"s":"X","t":780,"m":5.9,"lo":3.1,"hi":8.9},{"s":"X","t":790,"m":6.1,"lo":2.4,"hi":9.3},
{"s":"X","t":800,"m":6.3,"lo":2.7,"hi":9.7},{"s":"X","t":810,"m":6.4,"lo":3.0,"hi":9.5},{"s":"X","t":820,"m":6.6,"lo":2.5,"hi":10.0},{"s":"X","t":830,"m":6.3,"lo":2.8,"hi":9.6},{"s":"X","t":840,"m":6.1,"lo":2.3,"hi":9.4},{"s":"X","t":850,"m":6.0,"lo":2.9,"hi":9.2},{"s":"X","t":860,"m":5.9,"lo":2.6,"hi":9.0},{"s":"X","t":870,"m":5.8,"lo":3.1,"hi":9.6},{"s":"X","t":880,"m":6.0,"lo":2.4,"hi":9.8},{"s":"X","t":890,"m":6.2,"lo":2.7,"hi":9.3},
{"s":"X","t":900,"m":6.1,"lo":2.5,"hi":9.1},{"s":"X","t":910,"m":5.9,"lo":2.9,"hi":9.5},{"s":"X","t":920,"m":6.2,"lo":2.3,"hi":9.7},{"s":"X","t":930,"m":6.0,"lo":2.8,"hi":9.2},{"s":"X","t":940,"m":6.1,"lo":2.6,"hi":9.4},{"s":"X","t":950,"m":6.3,"lo":3.0,"hi":9.8},{"s":"X","t":960,"m":6.0,"lo":2.4,"hi":9.3},{"s":"X","t":970,"m":6.2,"lo":2.8,"hi":9.6},{"s":"X","t":980,"m":6.0,"lo":2.5,"hi":9.1},{"s":"X","t":990,"m":6.2,"lo":2.9,"hi":9.5},
{"s":"X","t":1000,"m":6.3,"lo":2.8,"hi":9.6},
{"s":"X","t":1003,"m":9,"lo":7.5,"hi":11},{"s":"X","t":1006,"m":14,"lo":12,"hi":16.5},{"s":"X","t":1010,"m":22,"lo":19,"hi":25.5},{"s":"X","t":1015,"m":30,"lo":26,"hi":34.5},{"s":"X","t":1020,"m":35,"lo":30.5,"hi":40},{"s":"X","t":1025,"m":36.5,"lo":32,"hi":42},{"s":"X","t":1030,"m":35,"lo":30.5,"hi":40},{"s":"X","t":1035,"m":31,"lo":27,"hi":36},{"s":"X","t":1040,"m":27,"lo":23,"hi":31.5},{"s":"X","t":1045,"m":23,"lo":19.5,"hi":27},{"s":"X","t":1050,"m":19.5,"lo":16,"hi":23.5},{"s":"X","t":1055,"m":16.5,"lo":12,"hi":21},{"s":"X","t":1060,"m":14.5,"lo":8.5,"hi":19.5},{"s":"X","t":1065,"m":12.8,"lo":6.5,"hi":18.5},{"s":"X","t":1070,"m":11.5,"lo":6.0,"hi":17.2},{"s":"X","t":1075,"m":10.6,"lo":7.8,"hi":16.0},{"s":"X","t":1080,"m":10.3,"lo":6.8,"hi":15.6},{"s":"X","t":1090,"m":10.5,"lo":8.2,"hi":16.8},{"s":"X","t":1100,"m":10.1,"lo":6.5,"hi":15.8},{"s":"X","t":1110,"m":10.4,"lo":7.9,"hi":16.5},{"s":"X","t":1120,"m":10.8,"lo":6.9,"hi":15.9},{"s":"X","t":1130,"m":10.5,"lo":8.4,"hi":17.0},{"s":"X","t":1140,"m":10.9,"lo":7.2,"hi":16.2},{"s":"X","t":1150,"m":11.1,"lo":8.6,"hi":16.9},{"s":"X","t":1160,"m":10.7,"lo":6.7,"hi":15.8},{"s":"X","t":1170,"m":11.2,"lo":8.0,"hi":17.1},{"s":"X","t":1180,"m":10.9,"lo":7.1,"hi":16.0},{"s":"X","t":1190,"m":11.3,"lo":8.5,"hi":16.8},{"s":"X","t":1200,"m":11.0,"lo":6.9,"hi":16.3},{"s":"X","t":1210,"m":11.4,"lo":8.2,"hi":17.2},{"s":"X","t":1220,"m":11.0,"lo":7.4,"hi":16.0},{"s":"X","t":1230,"m":11.5,"lo":5.8,"hi":16.9},{"s":"X","t":1240,"m":11.2,"lo":7.8,"hi":16.4},{"s":"X","t":1250,"m":11.6,"lo":6.6,"hi":17.3},{"s":"X","t":1260,"m":11.3,"lo":8.3,"hi":16.6},{"s":"X","t":1270,"m":11.7,"lo":7.2,"hi":17.5},{"s":"X","t":1280,"m":11.4,"lo":8.6,"hi":16.8},{"s":"X","t":1290,"m":12.0,"lo":7.0,"hi":17.6},{"s":"X","t":1300,"m":12.7,"lo":8.4,"hi":18.2},{"s":"X","t":1310,"m":12.2,"lo":7.5,"hi":16.9},{"s":"X","t":1320,"m":11.4,"lo":8.8,"hi":17.4},{"s":"X","t":1330,"m":11.8,"lo":6.9,"hi":16.7},{"s":"X","t":1340,"m":11.5,"lo":8.1,"hi":17.6},{"s":"X","t":1350,"m":12.1,"lo":7.3,"hi":16.9},{"s":"X","t":1360,"m":11.8,"lo":8.7,"hi":17.8},{"s":"X","t":1380,"m":12.3,"lo":7.0,"hi":16.8},{"s":"X","t":1400,"m":11.9,"lo":8.4,"hi":17.5},{"s":"X","t":1420,"m":12.2,"lo":7.1,"hi":17.0},{"s":"X","t":1440,"m":11.8,"lo":8.6,"hi":17.9},{"s":"X","t":1460,"m":12.4,"lo":7.4,"hi":16.9},{"s":"X","t":1480,"m":12.0,"lo":8.9,"hi":17.6},{"s":"X","t":1500,"m":12.6,"lo":6.8,"hi":17.2},{"s":"X","t":1520,"m":12.2,"lo":8.3,"hi":18.0},{"s":"X","t":1540,"m":12.5,"lo":7.5,"hi":17.1},{"s":"X","t":1560,"m":12.1,"lo":6.3,"hi":17.8},{"s":"X","t":1580,"m":12.7,"lo":8.5,"hi":17.3},{"s":"X","t":1600,"m":12.9,"lo":7.3,"hi":18.8},{"s":"X","t":1620,"m":12.3,"lo":8.7,"hi":17.4},{"s":"X","t":1640,"m":12.6,"lo":7.6,"hi":18.3},{"s":"X","t":1660,"m":11.9,"lo":8.8,"hi":17.2},{"s":"X","t":1680,"m":12.4,"lo":7.1,"hi":18.5},{"s":"X","t":1700,"m":12.1,"lo":8.4,"hi":17.1},{"s":"X","t":1720,"m":12.7,"lo":7.5,"hi":18.7},{"s":"X","t":1740,"m":12.2,"lo":8.9,"hi":17.3},{"s":"X","t":1760,"m":12.6,"lo":7.2,"hi":18.1},{"s":"X","t":1780,"m":12.0,"lo":8.5,"hi":17.2},{"s":"X","t":1800,"m":12.5,"lo":7.6,"hi":18.3},{"s":"X","t":1820,"m":12.3,"lo":8.9,"hi":17.5},{"s":"X","t":1840,"m":12.1,"lo":7.0,"hi":17.9},{"s":"X","t":1850,"m":11.4,"lo":8.2,"hi":16.8},{"s":"X","t":1860,"m":12.2,"lo":7.3,"hi":17.7},{"s":"X","t":1880,"m":12.6,"lo":8.6,"hi":17.0},{"s":"X","t":1900,"m":12.0,"lo":7.2,"hi":18.0},{"s":"X","t":1920,"m":12.3,"lo":8.4,"hi":17.2},{"s":"X","t":1940,"m":11.8,"lo":7.0,"hi":17.6},{"s":"X","t":1960,"m":12.4,"lo":8.7,"hi":17.1},{"s":"X","t":1980,"m":11.9,"lo":7.4,"hi":17.8},{"s":"X","t":1998,"m":12.1,"lo":8.5,"hi":17.3}
]},
"data":{"name":"d"},
"encoding":{
"x":{"field":"t","type":"quantitative","scale":{"domain":[-100,2097],"nice":false,"zero":false},"axis":{"values":[0,250,500,750,1000,1250,1500,1750,2000],"format":"d","title":"Time Slot (t)","grid":true,"tickSize":7,"labelPadding":9,"titlePadding":9,"titleFontSize":35}},
"y":{"field":"m","type":"quantitative","scale":{"type":"log","domain":[1.15,613],"nice":false},"axis":{"title":"Images queue-length 𝘘ₜₒₜ(𝘵)\u00a0\u00a0[DUs]","values":[2,3,4,5,6,7,8,9,10,20,30,40,50,60,70,80,90,100,200,300,400,500,600],"labelExpr":"datum.value == 10 ? '10¹' : datum.value == 100 ? '10²' : ''","grid":true,"gridOpacity":{"condition":{"test":"datum.value == 10 || datum.value == 100","value":1},"value":0},"tickSize":{"condition":{"test":"datum.value == 10 || datum.value == 100","value":7},"value":4},"tickWidth":{"condition":{"test":"datum.value == 10 || datum.value == 100","value":1.6},"value":1.2},"labelPadding":11,"titlePadding":11}}
},
"layer":[
{"mark":{"type":"area","opacity":0.2},
 "encoding":{
 "y":{"field":"lo","type":"quantitative","scale":{"type":"log","domain":[1.15,613],"nice":false},"axis":{"title":"Images queue-length 𝘘ₜₒₜ(𝘵)\u00a0\u00a0[DUs]","values":[2,3,4,5,6,7,8,9,10,20,30,40,50,60,70,80,90,100,200,300,400,500,600],"labelExpr":"datum.value == 10 ? '10¹' : datum.value == 100 ? '10²' : ''","grid":true,"gridOpacity":{"condition":{"test":"datum.value == 10 || datum.value == 100","value":1},"value":0},"tickSize":{"condition":{"test":"datum.value == 10 || datum.value == 100","value":7},"value":4},"tickWidth":{"condition":{"test":"datum.value == 10 || datum.value == 100","value":1.6},"value":1.2},"labelPadding":11,"titlePadding":11}},
 "y2":{"field":"hi"},
 "fill":{"field":"s","type":"nominal","scale":{"domain":["D","X","A","F"],"range":["#1f77b4","#ff7f0e","#d62728","#2ca02c"]},"legend":null}
 }},
{"mark":{"type":"line","strokeWidth":3},"encoding":{"color":{"field":"s","type":"nominal","scale":{"domain":["A","F","D","X"],"range":["#d62728","#2ca02c","#1f77b4","#ff7f0e"]},"legend":{"title":null,"orient":"none","legendX":13,"legendY":7,"symbolType":"M-1.08,0H1.92","symbolSize":1024,"symbolStrokeWidth":2.6,"labelFontSize":23,"labelFont":"DejaVu Sans","labelColor":"black","labelLimit":0,"labelOffset":30,"fillColor":"rgba(255,255,255,0.8)","strokeColor":"#cccccc","cornerRadius":5,"padding":7,"rowPadding":5.5,"labelExpr":"datum.label == 'A' ? 'Average Allocation' : datum.label == 'F' ? 'Fixed Rate' : datum.label == 'D' ? 'Dynamic Opt' : 'Fixed Accuracy'"}}}}
]
}
